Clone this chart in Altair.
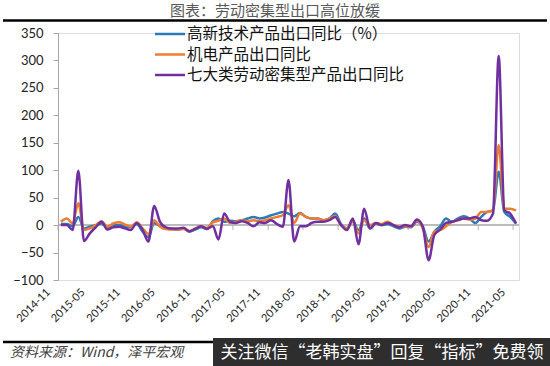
import altair as alt
import pandas as pd

MONTHS = pd.date_range("2014-11-01", periods=79, freq="MS").strftime("%Y/%m/%d").tolist()

HIGH_TECH = [2, 2, -2, 15, -6, -3, 0, 3, -4, 0, 0, -3, -4, 2, -12, -22, 4, -2, -6, -7,
             -8, -6, -12, -8, -4, -7, 7, 12, 6, 8, 7, 9, 12, 15, 12, 14, 18, 21, 24, 21,
             16, 22, 15, 12, 12, 9, 12, 21, 2, -6, 8, -9, 12, -6, 3, 0, 2, -2, -6, -3,
             -4, 6, -3, -30, -12, -2, 12, 6, 12, 16, 12, 4, 15, 24, 27, 97, 24, 15, 3]
MECH_ELEC = [6, 12, 3, 40, -9, -6, 0, 7, -3, 3, 5, 1, -3, 5, -6, -16, 9, -3, -7, -8,
             -8, -7, -11, -6, -2, -5, 5, 8, 12, 4, 6, 9, 7, 9, 7, 9, 12, 15, 18, 36,
             4, 21, 15, 12, 12, 9, 12, 16, 0, -6, 6, -15, 9, 0, 4, 2, 6, 0, -3, -2,
             -3, 8, -6, -40, -12, -9, -2, 6, 9, 12, 10, 12, 24, 24, 27, 146, 30, 30, 27]
LABOR = [0, 0, -9, 99, -29, -15, -4, 6, -8, -4, -3, -6, -9, 4, -9, -30, 35, 6, -4, -6,
         -6, -5, -11, -7, -2, -7, -2, -26, 21, 6, 4, 7, 4, -2, 5, 4, 9, 2, -3, 82,
         -30, -2, -2, 4, 6, 6, 9, 15, 0, -9, 12, -35, 30, -6, 4, 0, 4, 0, -4, 0,
         -2, 10, -3, -64, -18, -8, 4, 6, 9, 12, 12, 15, 9, 8, 21, 308, 27, 21, 3]

SERIES = ["高新技术产品出口同比（%）", "机电产品出口同比", "七大类劳动密集型产品出口同比"]
COLORS = ["#2E7AB6", "#ED7D31", "#7030A0"]
TICK_LABELS = ["2014-11", "2015-05", "2015-11", "2016-05", "2016-11", "2017-05", "2017-11",
               "2018-05", "2018-11", "2019-05", "2019-11", "2020-05", "2020-11", "2021-05"]
Y_TICKS = [-100, -50, 0, 50, 100, 150, 200, 250, 300, 350]

TITLE = ["图表：劳动密集型出口高位放缓"]
SOURCE = ["资料来源：Wind，泽平宏观"]
WATERMARK = ["关注微信“老韩实盘”回复“指标”免费领"]

rows = []
for name, vals in zip(SERIES, [HIGH_TECH, MECH_ELEC, LABOR]):
    for m, v in zip(MONTHS, vals):
        rows.append({"month": m, "value": v, "series": name})
df = pd.DataFrame(rows)

ticks_df = pd.DataFrame({"tick": [s.replace("-", "/") + "/01" for s in TICK_LABELS],
                         "value": [0] * len(TICK_LABELS)})

X_SCALE = alt.Scale(domain=[alt.DateTime(year=2014, month=11, date=1),
                            alt.DateTime(year=2021, month=6, date=1)])
X_AXIS = alt.Axis(values=[alt.DateTime(year=int(s[:4]), month=int(s[5:]), date=1) for s in TICK_LABELS],
                  format="%Y-%m", labelAngle=-45, labelFlush=False, labelOverlap=False,
                  ticks=False, domain=False, grid=False, labelPadding=6, labelOffset=-14,
                  labelFont="Lato", labelFontSize=11, labelColor="#222222", title=None)
Y_SCALE = alt.Scale(domain=[-100, 350], nice=False, zero=False)
Y_AXIS = alt.Axis(values=Y_TICKS, domainColor="#A6A6A6", tickColor="#A6A6A6", tickSize=5,
                  labelPadding=10, labelFont="Lato", labelFontSize=13, labelColor="#222222",
                  labelOverlap=False, grid=False, title=None)

LEGEND = alt.Legend(orient="none", legendX=103, legendY=-8, title=None,
                    symbolType="M-2,0H2", symbolSize=225, symbolStrokeWidth=2.5,
                    labelFont="Noto Sans CJK SC", labelFontSize=15.5, labelColor="#111111",
                    labelOffset=8, labelLimit=0, rowPadding=2.5, padding=0)
COLOR = alt.Color("series:N", scale=alt.Scale(domain=SERIES, range=COLORS), legend=LEGEND)

zero_rule = alt.Chart(pd.DataFrame({"value": [0]})).mark_rule(color="#A6A6A6", strokeWidth=1.5).encode(
    y=alt.Y("value:Q", scale=Y_SCALE, axis=Y_AXIS))

tick_marks = alt.Chart(ticks_df).mark_tick(orient="vertical", size=5, yOffset=2.5,
                                           color="#A6A6A6", thickness=1.2).encode(
    x=alt.X("tick:T", scale=X_SCALE, axis=X_AXIS),
    y=alt.Y("value:Q", scale=Y_SCALE, axis=Y_AXIS))

def series_line(name):
    return alt.Chart(df).transform_filter(alt.datum.series == name).mark_line(
        strokeWidth=2.5, interpolate="monotone").encode(
        x=alt.X("month:T", timeUnit="yearmonth", bandPosition=0.5, scale=X_SCALE, axis=X_AXIS),
        y=alt.Y("value:Q", scale=Y_SCALE, axis=Y_AXIS),
        color=COLOR)

lines = [series_line(n) for n in SERIES]

title_text = alt.Chart(pd.DataFrame({"t": TITLE})).mark_text(
    font="Noto Sans CJK SC", fontSize=15, color="#595959", align="center", baseline="middle").encode(
    text="t:N", x=alt.value(217), y=alt.value(-22))

top_rule = alt.Chart(pd.DataFrame({"a": [0]})).mark_rule(color="#000000", strokeWidth=2.5).encode(
    x=alt.value(-55), x2=alt.value(489), y=alt.value(-12.5))

bottom_rule = alt.Chart(pd.DataFrame({"a": [0]})).mark_rule(color="#000000", strokeWidth=2.5).encode(
    x=alt.value(-55), x2=alt.value(489), y=alt.value(309))

source_text = alt.Chart(pd.DataFrame({"t": SOURCE})).mark_text(
    font="Noto Sans CJK SC", fontSize=14, fontStyle="italic", color="#404040",
    align="left", baseline="middle").encode(
    text="t:N", x=alt.value(-48), y=alt.value(320))

wm_box = alt.Chart(pd.DataFrame({"a": [0]})).mark_rect(color="#2E2E2E").encode(
    x=alt.value(155), x2=alt.value(492), y=alt.value(305), y2=alt.value(333))

wm_text = alt.Chart(pd.DataFrame({"t": WATERMARK})).mark_text(
    font="Noto Sans CJK SC", fontSize=17, color="#FFFFFF", align="center", baseline="middle").encode(
    text="t:N", x=alt.value(324), y=alt.value(320))

chart = alt.layer(zero_rule, tick_marks, *lines, title_text, top_rule, bottom_rule,
                  source_text, wm_box, wm_text).properties(
    width=461, height=247,
    autosize=alt.AutoSizeParams(type="none"),
    padding={"left": 58, "top": 33, "right": 31, "bottom": 86},
).configure_view(stroke=None).configure(background="#FFFFFF")

chart.save("out.html", embed_options={"renderer": "svg", "actions": False})
